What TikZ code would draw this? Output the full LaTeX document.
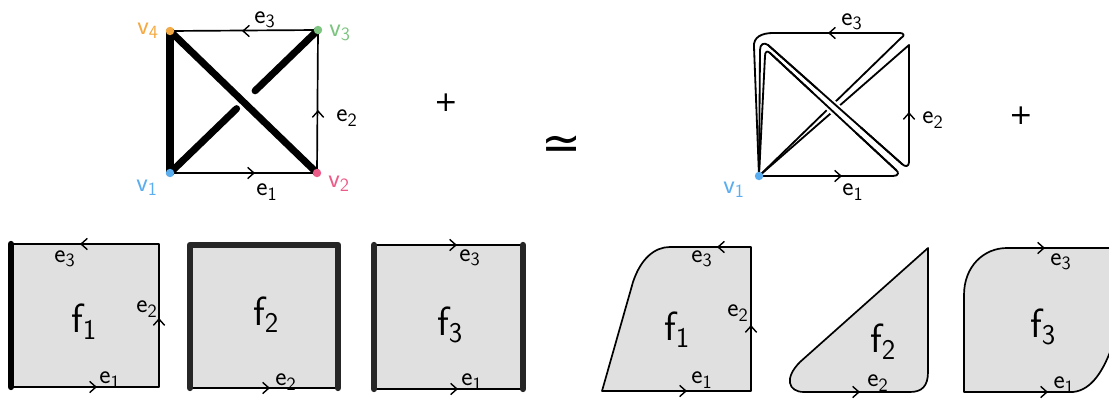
\documentclass[tikz,border=0pt]{standalone}
\usepackage{fontspec}
\newfontfamily\symfont{DejaVu Sans}
\usepackage{tikz}
\usetikzlibrary{arrows.meta,calc}
\definecolor{vBlue}{HTML}{5AADEE}
\definecolor{vPink}{HTML}{EC5C88}
\definecolor{vGreen}{HTML}{7CC47F}
\definecolor{vOrange}{HTML}{F4AA42}
\definecolor{faceGray}{HTML}{E0E0E0}
\definecolor{rimGray}{HTML}{262626}

\begin{document}
\begin{tikzpicture}[
  x=0.025cm, y=-0.025cm,
  lbl/.style={font=\sffamily\fontsize{19}{21}\selectfont, inner sep=0pt},
  flbl/.style={font=\sffamily\fontsize{29}{31}\selectfont, inner sep=0pt},
  sym/.style={font=\symfont\fontsize{20}{22}\selectfont, inner sep=0pt},
  thin edge/.style={line width=1.2pt, line cap=round, line join=round},
  fat edge/.style={line width=5pt, line cap=round},
  ribbon/.style={line width=1.3pt, line join=round, line cap=round},
  rim/.style={line width=4.5pt, rimGray, line cap=round},
  face/.style={fill=faceGray, draw=black, line width=1.2pt, line join=round},
  chev/.style={-{Straight Barb[length=4.5pt,width=8pt,line width=1pt]}, line width=1pt},
  dot/.style={circle, inner sep=0pt, minimum size=6pt},
]
\useasboundingbox (0,0) rectangle (1109,400);
\clip (0,0) rectangle (1109,400);

% ---------- graph with spanning tree ----------
\coordinate (v1) at (170,173);
\coordinate (v2) at (317,173);
\coordinate (v3) at (318,30);
\coordinate (v4) at (170,31);

\draw[thin edge] (v1) -- (v2) -- (v3) -- (v4);
\draw[chev] (253,173) -- (255,173);
\draw[chev] (318,112) -- (318,110);
\draw[chev] (244,31) -- (242,31);

% tree edges (v1--v3 passes under)
\draw[fat edge] (v4) -- (v1);
\draw[fat edge] (v4) -- (v2);
\draw[fat edge] (v1) -- ($(v1)!0.45!(v3)$);
\draw[fat edge] ($(v1)!0.575!(v3)$) -- (v3);

\node[dot, fill=vBlue] (d1) at (v1) {};
\node[dot, fill=vPink] (d2) at (v2) {};
\node[dot, fill=vGreen] (d3) at (v3) {};
\node[dot, fill=vOrange] (d4) at (v4) {};

\node[lbl, text=vBlue] (lv1) at (147,188) {v\textsubscript{1}};
\node[lbl, text=vPink] (lv2) at (339,184) {v\textsubscript{2}};
\node[lbl, text=vGreen] (lv3) at (340,33) {v\textsubscript{3}};
\node[lbl, text=vOrange] (lv4) at (148,31) {v\textsubscript{4}};
\node[lbl] (le3) at (265,20) {e\textsubscript{3}};
\node[lbl] (le2) at (347,118) {e\textsubscript{2}};
\node[lbl] (le1) at (267,192) {e\textsubscript{1}};

\node[sym] (plusA) at (446,103) {+};
\node[font=\symfont\fontsize{34}{36}\selectfont, inner sep=0pt] (simeq) at (562,148) {≃};

% ---------- ribbon graph at one vertex ----------
\coordinate (w1) at (759,176);

% boundary along e3
\draw[ribbon] (w1) -- (754,47) .. controls (753,37) and (762,33) .. (773,33)
  -- (900,33) .. controls (904,33) and (905,36) .. (901,38) -- (w1);
% boundary along e2
\draw[ribbon] (w1) -- (909,45) -- (909,162) .. controls (909,167) and (905,167) .. (902,164)
  -- (768,45) .. controls (764,42) and (760,44) .. (760,50) -- (w1);
% boundary along e1
\draw[ribbon] (w1) -- (893,176) .. controls (899,176) and (899,172) .. (896,170)
  -- (770,53) .. controls (767,50) and (765,52) .. (765,56) -- (w1);

% crossing: v4-v2 band goes over
\draw[white, line width=9pt] (815,91) -- (858,130);
\draw[ribbon] (902,164) -- (768,45);
\draw[ribbon] (896,170) -- (770,53);

\draw[chev] (830,33) -- (828,33);
\draw[chev] (909,114) -- (909,112);
\draw[chev] (840,176) -- (842,176);

\node[dot, fill=vBlue] (dw1) at (w1) {};
\node[lbl, text=vBlue] (lw1) at (734,190) {v\textsubscript{1}};
\node[lbl] (lf3) at (852,22) {e\textsubscript{3}};
\node[lbl] (lf2) at (933,120) {e\textsubscript{2}};
\node[lbl] (lf1) at (853,192) {e\textsubscript{1}};

\node[sym] (plusB) at (1021,116) {+};

% ---------- faces as squares ----------
\fill[faceGray] (11,244) rectangle (159,387);
\draw[thin edge] (11,244) -- (159,244) -- (159,387) -- (11,387);
\draw[rim, black] (11,244) -- (11,387);
\draw[chev] (82,244) -- (80,244);
\draw[chev] (159,320) -- (159,318);
\draw[chev] (95,387) -- (97,387);
\node[flbl] (sqf1) at (84,322) {f\textsubscript{1}};
\node[lbl] (sqa3) at (65,259) {e\textsubscript{3}};
\node[lbl] (sqa2) at (147,309) {e\textsubscript{2}};
\node[lbl] (sqa1) at (110,380) {e\textsubscript{1}};

\fill[faceGray] (190,245) rectangle (338,388);
\draw[line width=2pt, line cap=round] (190,388) -- (338,388);
\draw[rim, line join=round] (190,388) -- (190,245) -- (338,245) -- (338,388);
\draw[chev] (268,388) -- (270,388);
\node[flbl] (sqf2) at (266,315) {f\textsubscript{2}};
\node[lbl] (sqb2) at (286,382) {e\textsubscript{2}};

\fill[faceGray] (374,245) rectangle (523,389);
\draw[thin edge] (374,245) -- (523,245);
\draw[thin edge] (374,389) -- (523,389);
\draw[rim] (374,245) -- (374,389);
\draw[rim] (523,245) -- (523,389);
\draw[chev] (455,245) -- (457,245);
\draw[chev] (456,389) -- (458,389);
\node[flbl] (sqf3) at (450,325) {f\textsubscript{3}};
\node[lbl] (sqc3) at (470,258) {e\textsubscript{3}};
\node[lbl] (sqc1) at (472,382) {e\textsubscript{1}};

% ---------- faces as polygons ----------
\draw[face] (602,391) -- (633,282) .. controls (641,258) and (655,247) .. (670,247)
  -- (751,247) -- (751,391) -- cycle;
\draw[chev] (719,247) -- (717,247);
\draw[chev] (751,327) -- (751,325);
\draw[chev] (685,391) -- (687,391);
\node[flbl] (plf1) at (677,330) {f\textsubscript{1}};
\node[lbl] (pla3) at (702,259) {e\textsubscript{3}};
\node[lbl] (pla2) at (738,313) {e\textsubscript{2}};
\node[lbl] (pla1) at (702,380) {e\textsubscript{1}};

\draw[face] (928,248) -- (928,372) .. controls (928,386) and (922,392) .. (910,392)
  -- (804,392) .. controls (788,392) and (784,378) .. (800,362) -- cycle;
\draw[chev] (858,392) -- (860,392);
\node[flbl] (plf2) at (883,342) {f\textsubscript{2}};
\node[lbl] (plb2) at (878,383) {e\textsubscript{2}};

\draw[face] (964,392) -- (964,295) .. controls (964,266) and (984,248) .. (1007,248)
  -- (1125,248) -- (1125,320) -- (1113,344) .. controls (1104,370) and (1092,390) .. (1073,392) -- cycle;
\draw[chev] (1043,248) -- (1045,248);
\draw[chev] (1046,392) -- (1048,392);
\node[flbl] (plf3) at (1043,327) {f\textsubscript{3}};
\node[lbl] (plc3) at (1061,262) {e\textsubscript{3}};
\node[lbl] (plc1) at (1064,385) {e\textsubscript{1}};

\end{tikzpicture}
\end{document}
